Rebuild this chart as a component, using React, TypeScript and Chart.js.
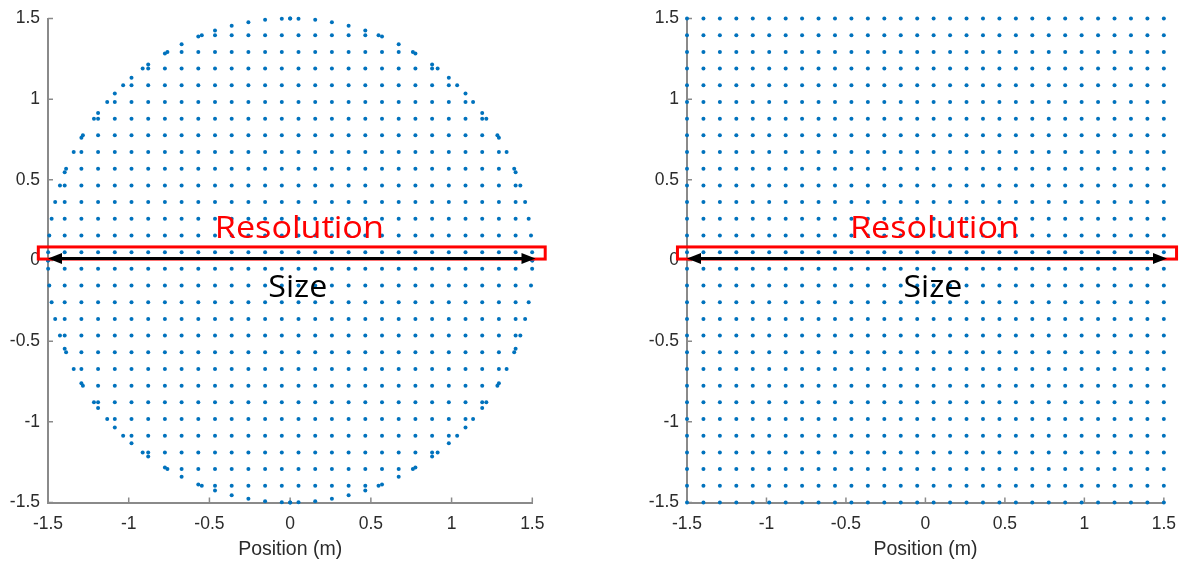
import React, { useEffect, useRef } from 'react';
import { Chart, registerables } from 'chart.js';

Chart.register(...registerables);

// Sampling grid positions (m), 30 columns/rows across the aperture
const gridPositions = [
  -1.5, -1.3966, -1.2931, -1.1897, -1.0862, -0.9828, -0.8793, -0.7759, -0.6724, -0.569,
  -0.4655, -0.3621, -0.2586, -0.1552, -0.0517, 0.0517, 0.1552, 0.2586, 0.3621, 0.4655,
  0.569, 0.6724, 0.7759, 0.8793, 0.9828, 1.0862, 1.1897, 1.2931, 1.3966, 1.5,
];

// Half-width of the circular aperture at each grid row/column (m)
const apertureEdge = [
  0, 0.5474, 0.7602, 0.9136, 1.0345, 1.1332, 1.2153, 1.2838, 1.3408, 1.3879,
  1.4259, 1.4556, 1.4775, 1.492, 1.4991, 1.4991, 1.492, 1.4775, 1.4556, 1.4259,
  1.3879, 1.3408, 1.2838, 1.2153, 1.1332, 1.0345, 0.9136, 0.7602, 0.5474, 0,
];

const tickValues = [-1.5, -1, -0.5, 0, 0.5, 1, 1.5];
const axisTitle = 'Position (m)';
const resolutionLabel = 'Resolution';
const sizeLabel = 'Size';

type Pt = { x: number; y: number };

function circularPoints(): Pt[] {
  const pts: Pt[] = [];
  gridPositions.forEach((gy, r) => {
    gridPositions.forEach((gx) => {
      if (Math.abs(gx) <= apertureEdge[r]) pts.push({ x: gx, y: gy });
    });
  });
  gridPositions.forEach((g, k) => {
    const e = apertureEdge[k];
    pts.push({ x: g, y: e }, { x: g, y: -e }, { x: e, y: g }, { x: -e, y: g });
  });
  return pts;
}

function squarePoints(): Pt[] {
  const pts: Pt[] = [];
  gridPositions.forEach((gy) => gridPositions.forEach((gx) => pts.push({ x: gx, y: gy })));
  return pts;
}

const AXIS_COLOR = '#8a8a8a';
const TEXT_COLOR = '#2b2b2b';
const DOT_COLOR = '#0072BD';

const innerTicks = {
  id: 'innerTicks',
  beforeDatasetsDraw(chart: any) {
    const { ctx, chartArea, scales } = chart;
    ctx.save();
    ctx.strokeStyle = AXIS_COLOR;
    ctx.lineWidth = 1.5;
    ctx.beginPath();
    tickValues.forEach((v) => {
      const px = scales.x.getPixelForValue(v);
      ctx.moveTo(px, chartArea.bottom);
      ctx.lineTo(px, chartArea.bottom - 5);
      const py = scales.y.getPixelForValue(v);
      ctx.moveTo(chartArea.left, py);
      ctx.lineTo(chartArea.left + 5, py);
    });
    ctx.stroke();
    ctx.restore();
  },
};

function drawFittedText(ctx: CanvasRenderingContext2D, text: string, cx: number, baseline: number, width: number, size: number, color: string) {
  ctx.save();
  ctx.font = `${size}px "Open Sans", "Noto Sans", sans-serif`;
  ctx.fillStyle = color;
  ctx.textAlign = 'center';
  ctx.textBaseline = 'alphabetic';
  const w = ctx.measureText(text).width;
  ctx.translate(cx, baseline);
  ctx.scale(width / w, 1);
  ctx.fillText(text, 0, 0);
  ctx.restore();
}

const annotate = {
  id: 'annotate',
  afterDraw(chart: any) {
    const { ctx, scales } = chart;
    const X = (v: number) => scales.x.getPixelForValue(v);
    const Y = (v: number) => scales.y.getPixelForValue(v);
    ctx.save();
    // Resolution box around one row of samples
    ctx.strokeStyle = '#ff0000';
    ctx.lineWidth = 3;
    const rx0 = X(-1.56), rx1 = X(1.58), ry0 = Y(0.084), ry1 = Y(0.009);
    ctx.strokeRect(rx0, ry0, rx1 - rx0, ry1 - ry0);
    // Size arrow
    const ay = Y(0.012);
    const ax0 = X(-1.5), ax1 = X(1.52);
    const hl = 14, hw = 5.5;
    ctx.strokeStyle = '#000000';
    ctx.fillStyle = '#000000';
    ctx.lineWidth = 3;
    ctx.beginPath();
    ctx.moveTo(ax0 + hl - 2, ay);
    ctx.lineTo(ax1 - hl + 2, ay);
    ctx.stroke();
    ctx.beginPath();
    ctx.moveTo(ax0, ay);
    ctx.lineTo(ax0 + hl, ay - hw);
    ctx.lineTo(ax0 + hl, ay + hw);
    ctx.closePath();
    ctx.fill();
    ctx.beginPath();
    ctx.moveTo(ax1, ay);
    ctx.lineTo(ax1 - hl, ay - hw);
    ctx.lineTo(ax1 - hl, ay + hw);
    ctx.closePath();
    ctx.fill();
    ctx.restore();
    drawFittedText(ctx, resolutionLabel, X(0.057), Y(0.142), 169, 31, '#ff0000');
    drawFittedText(ctx, sizeLabel, X(0.047), Y(-0.227), 59, 31, '#000000');
  },
};

function Panel({ points, left, width, yAxisWidth, padRight }: { points: Pt[]; left: number; width: number; yAxisWidth: number; padRight: number }) {
  const ref = useRef<HTMLCanvasElement | null>(null);
  useEffect(() => {
    if (!ref.current) return;
    const font = { family: '"Liberation Sans", Arial, Helvetica, sans-serif', size: 17.5 };
    const chart = new Chart(ref.current, {
      type: 'scatter',
      data: {
        datasets: [
          {
            data: points,
            backgroundColor: DOT_COLOR,
            borderWidth: 0,
            pointRadius: 2,
            clip: false as any,
          },
        ],
      },
      options: {
        animation: false,
        responsive: false,
        events: [],
        layout: { padding: { left: 0, top: 17.5, right: padRight, bottom: 0 } },
        plugins: { legend: { display: false }, tooltip: { enabled: false } },
        scales: {
          x: {
            type: 'linear',
            min: -1.5,
            max: 1.5,
            afterBuildTicks: (s: any) => { s.ticks = tickValues.map((v) => ({ value: v })); },
            afterFit: (s: any) => { s.height = 62.5; },
            grid: { display: false, drawTicks: false },
            border: { display: true, color: AXIS_COLOR, width: 2 },
            ticks: {
              font,
              color: TEXT_COLOR,
              padding: 11,
              maxRotation: 0,
              autoSkip: false,
              callback: (v: any) => String(Math.round(Number(v) * 10) / 10),
            },
            title: {
              display: true,
              text: axisTitle,
              color: TEXT_COLOR,
              font: { family: font.family, size: 19.5 },
              padding: { top: 0, bottom: 4 },
            },
          },
          y: {
            type: 'linear',
            min: -1.5,
            max: 1.5,
            afterBuildTicks: (s: any) => { s.ticks = tickValues.map((v) => ({ value: v })); },
            afterFit: (s: any) => { s.width = yAxisWidth; },
            grid: { display: false, drawTicks: false },
            border: { display: true, color: AXIS_COLOR, width: 2 },
            ticks: {
              font,
              color: TEXT_COLOR,
              padding: 8,
              autoSkip: false,
              callback: (v: any) => String(Math.round(Number(v) * 10) / 10),
            },
          },
        },
      },
      plugins: [innerTicks, annotate],
    } as any);
    return () => chart.destroy();
  }, []);
  return (
    <div style={{ position: 'absolute', left, top: 0, width, height: 565 }}>
      <canvas ref={ref} width={width} height={565} style={{ display: 'block', width, height: 565 }} />
    </div>
  );
}

export default function App() {
  const circle = circularPoints();
  const square = squarePoints();
  return (
    <div style={{ position: 'absolute', left: 0, top: 0, width: 1187, height: 565, background: '#ffffff', overflow: 'hidden' }}>
      <Panel points={circle} left={0} width={593} yAxisWidth={48} padRight={60.7} />
      <Panel points={square} left={593} width={594} yAxisWidth={94} padRight={14.7} />
    </div>
  );
}
